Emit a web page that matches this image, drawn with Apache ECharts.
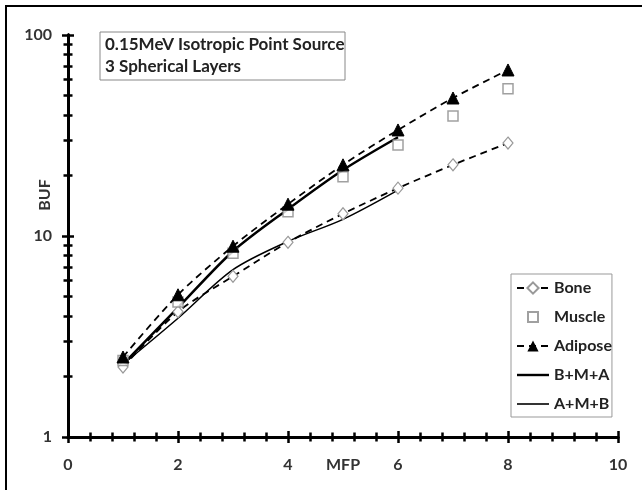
<!DOCTYPE html>
<html>
<head>
<meta charset="utf-8">
<script src="https://cdn.jsdelivr.net/npm/echarts@6/dist/echarts.min.js"></script>
<style>
  html, body { margin: 0; padding: 0; background: #fff; }
  #main { width: 642px; height: 490px; }
</style>
</head>
<body>
<div id="main"></div>
<script>
// Datos (BUF vs MFP)
var mfp = [1, 2, 3, 4, 5, 6, 7, 8];
var bone = [2.23, 4.2, 6.3, 9.3, 12.9, 17.3, 22.6, 29];
var muscle = [2.4, 4.7, 8.2, 13.2, 19.7, 28.4, 39.5, 54];
var adipose = [2.5, 5.1, 8.9, 14.4, 22.6, 33.7, 48.6, 67];
var mfpLayers = [1, 2, 3, 4, 5, 6];
var bma = [2.3, 4.4, 8.4, 13.6, 21.3, 31];
var amb = [2.3, 3.9, 6.8, 9.4, 12.1, 16.9];
var yMajor = [1, 10, 100];
var yMinor = [2, 3, 4, 5, 6, 7, 8, 9, 20, 30, 40, 50, 60, 70, 80, 90];

function pairs(xs, ys) {
  return xs.map(function (x, i) { return [x, ys[i]]; });
}

var chartDom = document.getElementById('main');
var myChart = echarts.init(chartDom);
var option;

var fontFam = 'Lato, "Open Sans", sans-serif';
var labelStyle = { color: '#333', fontWeight: 'bold', fontSize: 16, fontFamily: fontFam };

// todos los ejes tienen la misma escala; se usan varios solo para dibujar
// las marcas a ambos lados de la linea del eje (cada eje lleva una serie)
function xAx(inside, withLabel) {
  return {
    type: 'value', min: 0, max: 10, interval: 2, position: 'bottom',
    name: withLabel ? 'MFP' : '',
    nameLocation: 'middle', nameGap: 20, nameMoveOverlap: false,
    nameTextStyle: labelStyle,
    axisLine: { show: true, lineStyle: { color: '#000', width: 3 } },
    axisTick: { show: true, inside: inside, length: 6, lineStyle: { color: '#000', width: 2.5 } },
    minorTick: { show: true, splitNumber: 5, length: 4.5, lineStyle: { color: '#000', width: 2.5 } },
    splitLine: { show: false },
    axisLabel: { show: withLabel, margin: 20, color: '#333', fontWeight: 'bold', fontSize: 16, fontFamily: fontFam }
  };
}

function yAx(inside, ticks, len, withLabel) {
  return {
    type: 'log', min: 1, max: 100, position: 'left',
    axisLine: { show: true, lineStyle: { color: '#000', width: 3 } },
    axisTick: { show: true, inside: inside, length: len, customValues: ticks, lineStyle: { color: '#000', width: 2.5 } },
    splitLine: { show: false },
    axisLabel: { show: withLabel, margin: 16, customValues: yMajor, color: '#333', fontWeight: 'bold', fontSize: 16, fontFamily: fontFam }
  };
}

option = {
  animation: false,
  backgroundColor: '#fff',
  grid: { left: 68, right: 24, top: 35, bottom: 53, outerBoundsMode: 'none' },
  xAxis: [xAx(false, true), xAx(true, false)],
  yAxis: [
    yAx(false, yMajor, 6, true),
    yAx(true, yMajor, 6, false),
    yAx(false, yMinor, 4.5, false),
    yAx(true, yMinor, 4.5, false)
  ],
  legend: {
    orient: 'vertical',
    left: 511, top: 274,
    padding: [6, 0, 5, 5],
    itemGap: 13,
    itemWidth: 32, itemHeight: 14,
    borderColor: '#999', borderWidth: 1,
    textStyle: { color: '#222', fontWeight: 'bold', fontSize: 16, fontFamily: fontFam },
    data: [
      { name: 'Bone' },
      { name: 'Muscle', icon: 'path://M0,0 M32,14 M11,2 L21,2 L21,12 L11,12 Z' },
      { name: 'Adipose' },
      { name: 'B+M+A', icon: 'path://M0,0 M32,14 M0,5.8 L32,5.8 L32,8.2 L0,8.2 Z' },
      { name: 'A+M+B', icon: 'path://M0,0 M32,14 M0,6.2 L32,6.2 L32,7.8 L0,7.8 Z' }
    ]
  },
  graphic: [
    {
      type: 'rect', silent: true,
      shape: { x: 6, y: 6, width: 700, height: 600 },
      style: { fill: 'none', stroke: '#000', lineWidth: 2 }
    },
    {
      type: 'rect', silent: true,
      shape: { x: 100, y: 32, width: 245, height: 48 },
      style: { fill: '#fff', stroke: '#888', lineWidth: 1 }
    },
    {
      type: 'text', left: 105, top: 36, silent: true,
      style: { text: '0.15MeV Isotropic Point Source', fill: '#222', font: 'bold 17px ' + fontFam }
    },
    {
      type: 'text', left: 105, top: 58, silent: true,
      style: { text: '3 Spherical Layers', fill: '#222', font: 'bold 17px ' + fontFam }
    },
    {
      type: 'text', silent: true, x: 45, y: 195, rotation: Math.PI / 2,
      style: { text: 'BUF', fill: '#333', font: 'bold 16px ' + fontFam, align: 'center', verticalAlign: 'middle' }
    }
  ],
  series: [
    {
      name: 'Bone', type: 'line', smooth: 0.3,
      xAxisIndex: 0, yAxisIndex: 0,
      data: pairs(mfp, bone),
      symbol: 'diamond', symbolSize: [10, 12],
      itemStyle: { color: '#fff', borderColor: '#999', borderWidth: 1.2 },
      lineStyle: { color: '#000', width: 1.8, type: [7, 5] },
      z: 3
    },
    {
      name: 'Muscle', type: 'scatter',
      xAxisIndex: 1, yAxisIndex: 1,
      data: pairs(mfp, muscle),
      symbol: 'rect', symbolSize: 10,
      itemStyle: { color: '#fff', borderColor: '#888', borderWidth: 1.5 },
      z: 4
    },
    {
      name: 'Adipose', type: 'line', smooth: 0.3,
      xAxisIndex: 0, yAxisIndex: 2,
      data: pairs(mfp, adipose),
      symbol: 'triangle', symbolSize: 12,
      itemStyle: { color: '#000', borderColor: '#000' },
      lineStyle: { color: '#000', width: 1.8, type: [7, 5] },
      z: 5
    },
    {
      name: 'B+M+A', type: 'line', smooth: 0.3,
      xAxisIndex: 1, yAxisIndex: 3,
      data: pairs(mfpLayers, bma),
      symbol: 'none',
      itemStyle: { color: '#000' },
      lineStyle: { color: '#000', width: 2.5 },
      z: 2
    },
    {
      name: 'A+M+B', type: 'line', smooth: 0.3,
      xAxisIndex: 0, yAxisIndex: 0,
      data: pairs(mfpLayers, amb),
      symbol: 'none',
      itemStyle: { color: '#000' },
      lineStyle: { color: '#000', width: 1.5 },
      z: 2
    }
  ]
};

option && myChart.setOption(option);
</script>
</body>
</html>
